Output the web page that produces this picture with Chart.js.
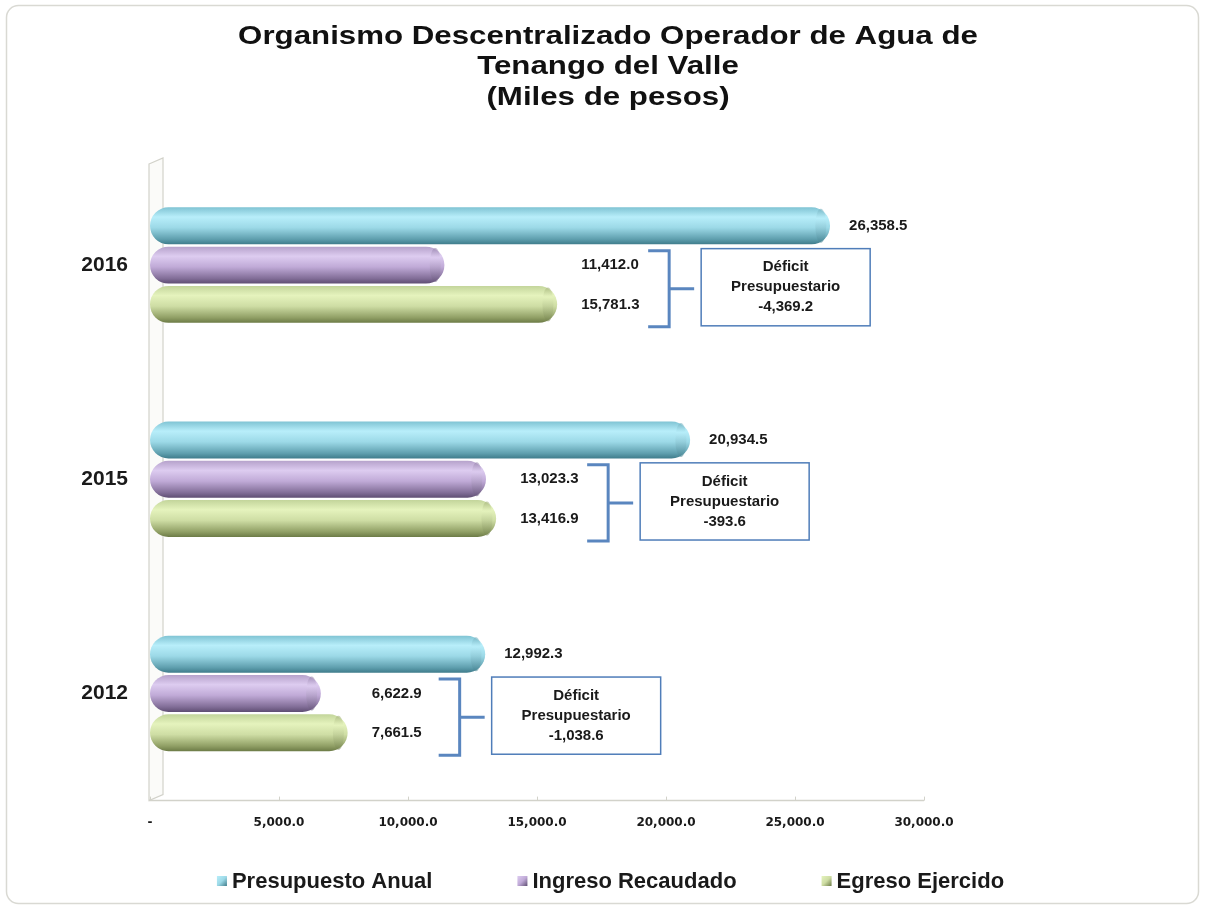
<!DOCTYPE html>
<html lang="es">
<head>
<meta charset="utf-8">
<title>Organismo Descentralizado Operador de Agua de Tenango del Valle</title>
<script src="https://cdn.jsdelivr.net/npm/chart.js@4.4.1/dist/chart.umd.min.js"></script>
<style>
  html, body { margin: 0; padding: 0; background: #fff; }
  #contenedor { width: 1205px; height: 907px; }
</style>
</head>
<body>
<div id="contenedor"><canvas id="grafico"></canvas></div>
<script>
// ---- datos (miles de pesos) ----
const anios = ['2016', '2015', '2012'];
const presupuestoAnual = [26358.5, 20934.5, 12992.3];
const ingresoRecaudado = [11412.0, 13023.3, 6622.9];
const egresoEjercido = [15781.3, 13416.9, 7661.5];
const deficitPresupuestario = [-4369.2, -393.6, -1038.6];
const nombresSeries = ['Presupuesto Anual', 'Ingreso Recaudado', 'Egreso Ejercido'];
const titulo = ['Organismo Descentralizado Operador de Agua de', 'Tenango del Valle', '(Miles de pesos)'];
const ejeMin = 0;
const ejeMax = 30000;
const ejePaso = 5000;

// ---- estilo ----
const fam = 'Arial, "Liberation Sans", sans-serif';
const CAT_PCT = 0.55;
const BAR_PCT = 0.94;
// borde sup, brillo, medio, sombra, borde inf
const tonos = [
    ['#80c4d4', '#b8eefa', '#9cd9e7', '#5f9fae', '#3f7c8b'],
    ['#b6a2cb', '#ddccf0', '#c0aad7', '#826e98', '#5f4e73'],
    ['#c3d59b', '#e5f3bd', '#cedda4', '#909f65', '#6c7b46']
];
const azul = '#5a86bf';

const fmt = v => v.toLocaleString('en-US', { minimumFractionDigits: 1, maximumFractionDigits: 1 });

// degradado vertical de cada barra (cilindro), calculado desde la escala
function gradienteBarra(ctx) {
    const t = tonos[ctx.datasetIndex];
    const ys = ctx.chart.scales.y;
    if (!ys || ctx.type !== 'data' || !isFinite(ys.top) || ys.bottom <= ys.top) return t[2];
    const banda = (ys.bottom - ys.top) / anios.length;
    const grupo = banda * CAT_PCT, hueco = grupo / 3, grosor = hueco * BAR_PCT;
    const y0 = ys.getPixelForValue(ctx.dataIndex) - grupo / 2 + ctx.datasetIndex * hueco + (hueco - grosor) / 2;
    const g = ctx.chart.ctx.createLinearGradient(0, y0, 0, y0 + grosor);
    g.addColorStop(0, t[0]);
    g.addColorStop(0.26, t[1]);
    g.addColorStop(0.55, t[2]);
    g.addColorStop(0.86, t[3]);
    g.addColorStop(1, t[4]);
    return g;
}

// marco redondeado de fondo y título
const marco = {
    id: 'marco',
    beforeDraw(chart) {
        const c = chart.ctx;
        c.save();
        c.fillStyle = '#fff';
        c.fillRect(0, 0, chart.width, chart.height);
        c.beginPath();
        c.roundRect(6.5, 5.5, chart.width - 13, chart.height - 9, 12);
        c.strokeStyle = '#d9d9d3';
        c.lineWidth = 1.5;
        c.stroke();

        // título (letra algo ensanchada como en el original)
        c.fillStyle = '#111';
        c.font = 'bold 25px ' + fam;
        c.textAlign = 'center';
        c.textBaseline = 'middle';
        titulo.forEach((linea, i) => {
            c.save();
            c.translate(608, 37 + i * 30.5);
            c.scale(1.25, 1);
            c.fillText(linea, 0, 0);
            c.restore();
        });
        c.restore();
    }
};

// pared 3D, eje y marcas
const pared = {
    id: 'pared',
    beforeDatasetsDraw(chart) {
        const c = chart.ctx, ca = chart.chartArea, xs = chart.scales.x;
        const L = ca.left - 1, prof = 14, sube = 6;
        c.save();
        c.strokeStyle = '#d2d2ca';
        c.lineWidth = 1.2;
        c.fillStyle = '#fbfbf9';
        c.beginPath();
        c.moveTo(L, ca.top + sube);
        c.lineTo(L + prof, ca.top);
        c.lineTo(L + prof, ca.bottom - sube);
        c.lineTo(L, ca.bottom);
        c.closePath();
        c.fill();
        c.stroke();
        c.lineWidth = 1.5;
        c.beginPath();
        c.moveTo(L, ca.bottom);
        c.lineTo(xs.right, ca.bottom);
        c.stroke();
        c.lineWidth = 1;
        xs.ticks.forEach(t => {
            const x = Math.round(xs.getPixelForValue(t.value)) + 0.5;
            c.beginPath();
            c.moveTo(x, ca.bottom);
            c.lineTo(x, ca.bottom - 4);
            c.stroke();
        });
        c.restore();
    }
};

// tapas, etiquetas, corchetes y cuadros de déficit
const anotaciones = {
    id: 'anotaciones',
    afterDatasetsDraw(chart) {
        const c = chart.ctx;
        const metas = [0, 1, 2].map(d => chart.getDatasetMeta(d).data);
        c.save();
        // tapa del cilindro
        metas.forEach((barras, d) => barras.forEach(b => {
            const r = b.height / 2;
            const g = c.createLinearGradient(0, b.y - r, 0, b.y + r);
            g.addColorStop(0, tonos[d][3]);
            g.addColorStop(0.3, tonos[d][1]);
            g.addColorStop(1, tonos[d][4]);
            c.beginPath();
            c.ellipse(b.x - r * 0.5, b.y, r * 0.3, r * 0.92, 0, 0, Math.PI * 2);
            c.globalAlpha = 0.55;
            c.fillStyle = g;
            c.fill();
            c.globalAlpha = 1;
        }));

        c.font = 'bold 15px ' + fam;
        c.fillStyle = '#1a1a1a';
        c.textBaseline = 'middle';
        c.textAlign = 'left';
        anios.forEach((a, i) => {
            const p = metas[0][i], ing = metas[1][i], egr = metas[2][i];
            c.fillText(fmt(presupuestoAnual[i]), p.x + 19, p.y);
            const xt = Math.max(ing.x, egr.x) + 24;
            c.fillText(fmt(ingresoRecaudado[i]), xt, ing.y);
            c.fillText(fmt(egresoEjercido[i]), xt, egr.y);

            const bx = xt + 88;
            const arriba = ing.y - ing.height / 2 + 4;
            const abajo = egr.y + egr.height / 2 + 4;
            const medio = (arriba + abajo) / 2;
            c.strokeStyle = azul;
            c.lineWidth = 3;
            c.beginPath();
            c.moveTo(bx - 21, arriba);
            c.lineTo(bx, arriba);
            c.lineTo(bx, abajo);
            c.lineTo(bx - 21, abajo);
            c.moveTo(bx, medio);
            c.lineTo(bx + 25, medio);
            c.stroke();

            const cx = bx + 32, cy = arriba - 2, cw = 169, ch = abajo - arriba + 1;
            c.fillStyle = '#fff';
            c.fillRect(cx, cy, cw, ch);
            c.strokeStyle = '#4f7db9';
            c.lineWidth = 1.5;
            c.strokeRect(cx, cy, cw, ch);
            c.fillStyle = '#1a1a1a';
            c.textAlign = 'center';
            const my = cy + ch / 2;
            c.fillText('Déficit', cx + cw / 2, my - 20);
            c.fillText('Presupuestario', cx + cw / 2, my);
            c.fillText(fmt(deficitPresupuestario[i]), cx + cw / 2, my + 20);
            c.textAlign = 'left';
        });
        c.restore();
    }
};

// leyenda inferior
const leyenda = {
    id: 'leyenda',
    afterDraw(chart) {
        const c = chart.ctx;
        c.save();
        c.font = 'bold 22px ' + fam;
        c.textBaseline = 'middle';
        const sep = 85, caja = 10, gap = 5;
        const anchos = chart.data.datasets.map(ds => caja + gap + c.measureText(ds.label).width);
        const total = anchos.reduce((s, w) => s + w, 0) + sep * (anchos.length - 1);
        let x = chart.width / 2 + 8 - total / 2;
        const y = 881;
        chart.data.datasets.forEach((ds, d) => {
            const g = c.createLinearGradient(x, y - caja / 2, x + caja, y + caja / 2);
            g.addColorStop(0, tonos[d][1]);
            g.addColorStop(0.5, tonos[d][2]);
            g.addColorStop(1, tonos[d][4]);
            c.fillStyle = g;
            c.fillRect(x, y - caja / 2, caja, caja);
            c.fillStyle = '#1a1a1a';
            c.fillText(ds.label, x + caja + gap, y + 1);
            x += anchos[d] + sep;
        });
        c.restore();
    }
};

const series = [presupuestoAnual, ingresoRecaudado, egresoEjercido];

new Chart(document.getElementById('grafico'), {
    type: 'bar',
    data: {
        labels: anios,
        datasets: series.map((valores, d) => ({
            label: nombresSeries[d],
            data: valores,
            backgroundColor: gradienteBarra,
            borderWidth: 0,
            borderRadius: 20,
            borderSkipped: false,
            categoryPercentage: CAT_PCT,
            barPercentage: BAR_PCT
        }))
    },
    options: {
        indexAxis: 'y',
        responsive: true,
        maintainAspectRatio: false,
        animation: false,
        layout: { padding: { left: 20, right: 281, top: 158, bottom: 62 } },
        scales: {
            x: {
                min: ejeMin,
                max: ejeMax,
                grid: { display: false, drawTicks: false },
                border: { display: false },
                ticks: {
                    stepSize: ejePaso,
                    padding: 15,
                    color: '#1a1a1a',
                    font: { family: '"DejaVu Sans", Verdana, sans-serif', size: 12, weight: 'bold' },
                    callback: v => v === 0 ? '-' : fmt(v)
                }
            },
            y: {
                grid: { display: false, drawTicks: false },
                border: { display: false },
                afterFit: s => { s.width = 130; },
                ticks: {
                    padding: 22,
                    color: '#1a1a1a',
                    font: { family: fam, size: 21, weight: 'bold' }
                }
            }
        },
        plugins: {
            legend: { display: false },
            tooltip: { enabled: false },
            title: { display: false }
        }
    },
    plugins: [marco, pared, anotaciones, leyenda]
});
</script>
</body>
</html>
